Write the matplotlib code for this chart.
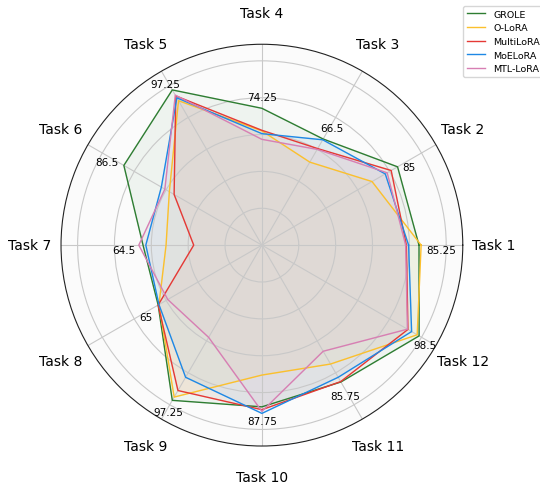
import numpy as np
import matplotlib
matplotlib.use("Agg")
import matplotlib.pyplot as plt

tasks = ["Task " + str(i) for i in range(1, 13)]
methods = ["GROLE", "O-LoRA", "MultiLoRA", "MoELoRA", "MTL-LoRA"]

grole = [85.25, 85, 66.5, 74.25, 97.25, 86.5, 64.5, 65, 97.25, 87.75, 85.75, 98.5]
olora = [86.4, 69, 52, 62, 90.5, 58, 52, 64.5, 95.2, 70.5, 74.5, 97.3]
multilora = [78.4, 81, 60.5, 62.3, 93.5, 55, 37, 65, 91.1, 89.3, 85.5, 91.5]
moelora = [79.6, 77.3, 66, 60.5, 92.3, 63, 63, 64.5, 82.8, 91.3, 82.8, 93.8]
mtllora = [78, 78.5, 60, 57.4, 94, 60.8, 66.8, 59, 57.8, 90.2, 66.5, 91.2]

series = [grole, olora, multilora, moelora, mtllora]
colors = ["#2e7d32", "#fbc02d", "#e53935", "#1e88e5", "#d77fb3"]

# label offsets from the GROLE point (pixels, x right / y down)
lab_dx = [22, 11, 9, 0, -7, -17, -19, -12, -4, 0, 4, 6]
lab_dy = [5, 0, -11, -11, -6, -3, 5, 12, 12, 14, 14, 9]

n = len(tasks)
angles = np.linspace(0, 2 * np.pi, n, endpoint=False)
closed = np.concatenate([angles, angles[:1]])

fig = plt.figure(figsize=(5.4, 4.85), dpi=100)
ax = fig.add_axes([0.113, 0.078, 0.744, 0.829], polar=True)
ax.set_facecolor("#fbfbfb")

for vals, name, col in zip(series, methods, colors):
    v = np.concatenate([vals, vals[:1]])
    ax.plot(closed, v, color=col, lw=1, label=name)
    ax.fill(closed, v, color=col, alpha=0.06)

ax.set_ylim(0, 109)
ax.set_yticks([20, 40, 60, 80, 100])
ax.set_yticklabels([])
ax.set_xticks(angles)
ax.set_xticklabels(tasks, fontsize=10)
ax.tick_params(axis="x", pad=12)
ax.grid(color="#c8c8c8", lw=0.8)
ax.spines["polar"].set_color("#222222")
ax.spines["polar"].set_linewidth(0.8)

for a, v, dx, dy in zip(angles, grole, lab_dx, lab_dy):
    ax.annotate(f"{v:g}", xy=(a, v), xytext=(dx * 0.72, -dy * 0.72),
                textcoords="offset points", ha="center", va="center", fontsize=7.5)

ax.legend(loc="upper left", bbox_to_anchor=(0.857, 0.986), bbox_transform=fig.transFigure,
          borderaxespad=0, fontsize=6.8)

fig.savefig("out.png", dpi=100)
